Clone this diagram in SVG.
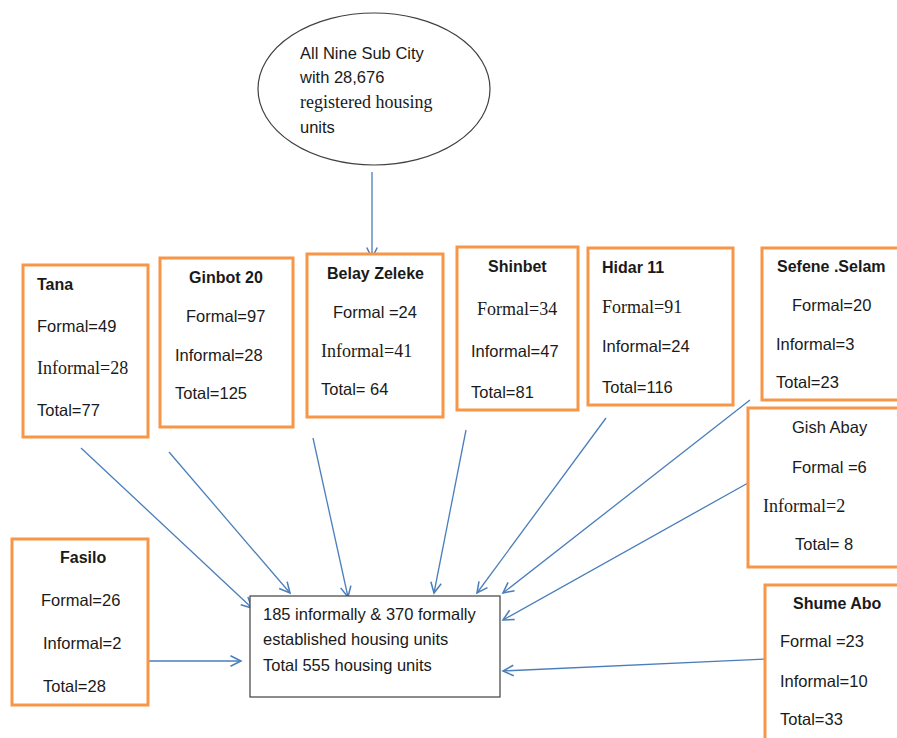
<svg xmlns="http://www.w3.org/2000/svg" width="897" height="738" viewBox="0 0 897 738">
<defs>
<marker id="arr" markerUnits="userSpaceOnUse" markerWidth="14" markerHeight="14" refX="10" refY="5" orient="auto" viewBox="0 0 12 10">
<path d="M1,0.5 L10,5 L1,9.5" fill="none" stroke="#4A7EBB" stroke-width="1.3"/>
</marker>
</defs>
<style>
.ob{fill:#fff;stroke:#F79646;stroke-width:3}
.s{font-family:"Liberation Sans",Arial,sans-serif;font-size:16.5px;fill:#1a1a1a}
.b{font-family:"Liberation Sans",Arial,sans-serif;font-size:16px;font-weight:bold;fill:#1a1a1a}
.r{font-family:"Liberation Serif","Times New Roman",serif;font-size:18px;fill:#1a1a1a}
.c{stroke:#4A7EBB;stroke-width:1.3;fill:none;marker-end:url(#arr)}
</style>
<rect width="897" height="738" fill="#fff"/>
<g id="connectors">
<line class="c" x1="372" y1="172" x2="372" y2="258"/>
<line class="c" x1="81" y1="448" x2="252" y2="608"/>
<line class="c" x1="169" y1="452" x2="290" y2="593"/>
<line class="c" x1="313" y1="438" x2="348" y2="597"/>
<line class="c" x1="466" y1="430" x2="434" y2="593"/>
<line class="c" x1="606" y1="418" x2="477" y2="593"/>
<line class="c" x1="750" y1="400" x2="503" y2="593"/>
<line class="c" x1="748" y1="483" x2="503" y2="620"/>
<line class="c" x1="765" y1="659" x2="503" y2="671"/>
<line class="c" x1="148" y1="661" x2="241" y2="661"/>
</g>
<g id="source">
<ellipse cx="374" cy="89" rx="116" ry="76" fill="#fff" stroke="#404040" stroke-width="1.2"/>
<text class="s" x="300" y="59" font-size="15.5">All Nine Sub City</text>
<text class="s" x="300" y="83" font-size="15.5">with 28,676</text>
<text class="r" x="300" y="108" font-size="17.5">registered housing</text>
<text class="s" x="300" y="133" font-size="15.5">units</text>
</g>
<g id="tana">
<rect class="ob" x="23" y="265" width="125" height="172"/>
<text class="b" x="37" y="290">Tana</text>
<text class="s" x="37" y="332">Formal=49</text>
<text class="r" x="37" y="374">Informal=28</text>
<text class="s" x="37" y="416">Total=77</text>
</g>
<g id="ginbot20">
<rect class="ob" x="160" y="258" width="133" height="169"/>
<text class="b" x="189" y="283">Ginbot 20</text>
<text class="s" x="186" y="322">Formal=97</text>
<text class="s" x="175" y="361">Informal=28</text>
<text class="s" x="175" y="399">Total=125</text>
</g>
<g id="belayzeleke">
<rect class="ob" x="307" y="254" width="136" height="163"/>
<text class="b" x="327" y="279">Belay Zeleke</text>
<text class="s" x="333" y="318">Formal =24</text>
<text class="r" x="321" y="357">Informal=41</text>
<text class="s" x="321" y="395">Total= 64</text>
</g>
<g id="shinbet">
<rect class="ob" x="457" y="247" width="121" height="163"/>
<text class="b" x="488" y="272">Shinbet</text>
<text class="r" x="477" y="315">Formal=34</text>
<text class="s" x="471" y="357">Informal=47</text>
<text class="s" x="471" y="398">Total=81</text>
</g>
<g id="hidar11">
<rect class="ob" x="588" y="248" width="145" height="157"/>
<text class="b" x="602" y="273">Hidar 11</text>
<text class="r" x="602" y="313">Formal=91</text>
<text class="s" x="602" y="352">Informal=24</text>
<text class="s" x="602" y="393">Total=116</text>
</g>
<g id="sefeneselam">
<rect class="ob" x="762" y="248" width="140" height="152"/>
<text class="b" x="777" y="272">Sefene .Selam</text>
<text class="s" x="792" y="311">Formal=20</text>
<text class="s" x="776" y="350">Informal=3</text>
<text class="s" x="776" y="388">Total=23</text>
</g>
<g id="gishabay">
<rect class="ob" x="748" y="408" width="154" height="159"/>
<text class="s" x="792" y="433">Gish Abay</text>
<text class="s" x="792" y="473">Formal =6</text>
<text class="r" x="763" y="512">Informal=2</text>
<text class="s" x="795" y="550">Total= 8</text>
</g>
<g id="shumeabo">
<rect class="ob" x="765" y="585" width="137" height="160"/>
<text class="b" x="793" y="609">Shume Abo</text>
<text class="s" x="780" y="647">Formal =23</text>
<text class="s" x="780" y="687">Informal=10</text>
<text class="s" x="780" y="725">Total=33</text>
</g>
<g id="fasilo">
<rect class="ob" x="12" y="539" width="136" height="166"/>
<text class="b" x="60" y="563">Fasilo</text>
<text class="s" x="41" y="606">Formal=26</text>
<text class="s" x="43" y="649">Informal=2</text>
<text class="s" x="43" y="692">Total=28</text>
</g>
<g id="summary">
<rect x="250" y="596" width="250" height="101" fill="#fff" stroke="#404040" stroke-width="1.2"/>
<text class="s" x="263" y="620" font-size="17">185 informally &amp; 370 formally</text>
<text class="s" x="263" y="645" font-size="17">established housing units</text>
<text class="s" x="263" y="671" font-size="17">Total 555 housing units</text>
</g>
</svg>
